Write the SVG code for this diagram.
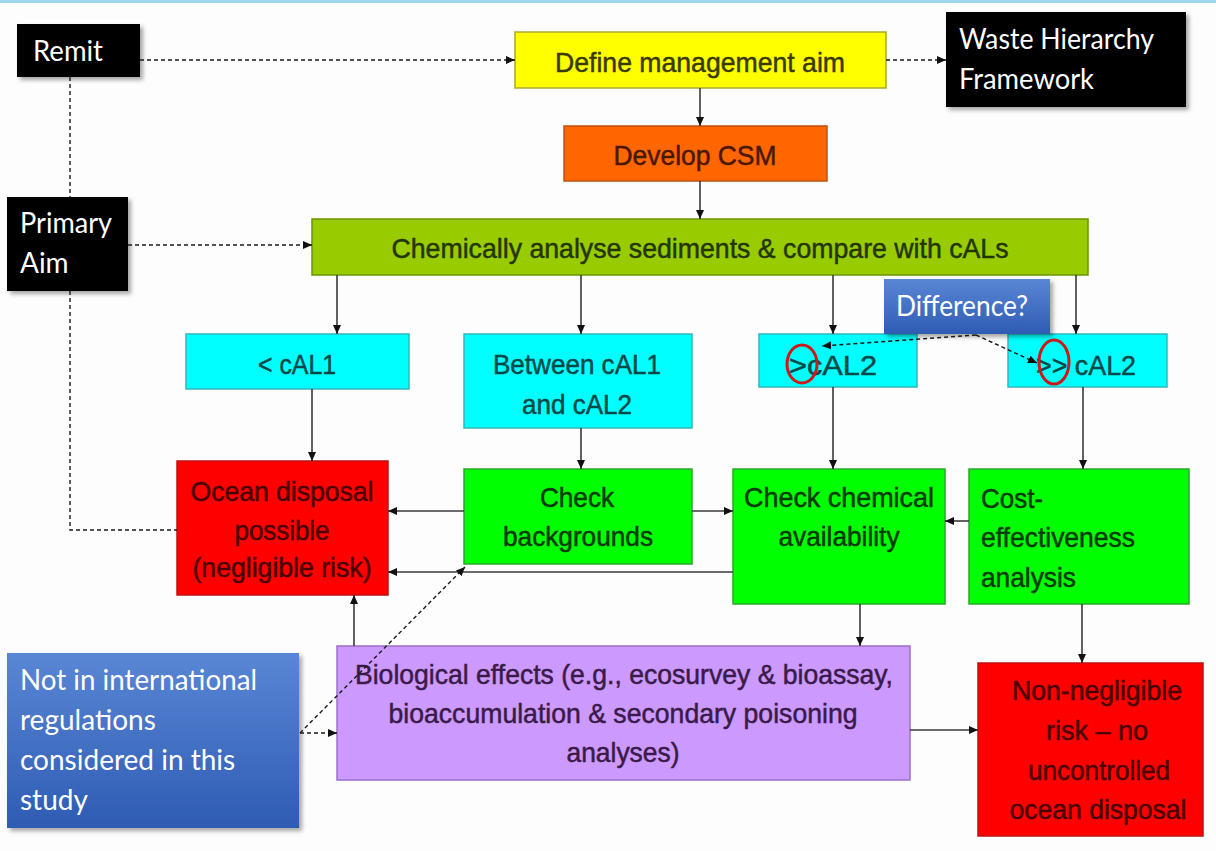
<svg xmlns="http://www.w3.org/2000/svg" width="1216" height="851" viewBox="0 0 1216 851">
<defs>
<marker id="ah" markerWidth="9" markerHeight="8" refX="9" refY="4" orient="auto" markerUnits="userSpaceOnUse"><path d="M0,0 L9,4 L0,8 Z" fill="#111"/></marker>
<filter id="sh" x="-10%" y="-10%" width="130%" height="130%"><feDropShadow dx="3" dy="3" stdDeviation="2" flood-color="#000" flood-opacity="0.35"/></filter>
<linearGradient id="bl" x1="0" y1="0" x2="0" y2="1"><stop offset="0" stop-color="#5a86d5"/><stop offset="1" stop-color="#2e5cb3"/></linearGradient>
<style>
.c{fill:none;stroke:#3a3a3a;stroke-width:1.6}
.d{fill:none;stroke:#1a1a1a;stroke-width:1.4;stroke-dasharray:4 3}
.t{font-family:"Liberation Sans",Arial,sans-serif;font-size:28px;text-anchor:middle;stroke-width:0.5px}
.tl{font-family:"Liberation Sans",Arial,sans-serif;font-size:28px;stroke-width:0.5px}
.w{font-family:Lato,"Open Sans",sans-serif;font-size:28px;fill:#fff}
</style>
</defs>
<rect width="1216" height="851" fill="#fdfdfd"/>
<rect x="0" y="0" width="1216" height="3" fill="#9ed4ee"/>

<g id="remit"><rect x="17" y="24" width="123" height="53" fill="#000" filter="url(#sh)"/><text class="w" x="33" y="61" textLength="70" lengthAdjust="spacingAndGlyphs">Remit</text></g>
<g id="primary-aim"><rect x="7" y="197" width="121" height="94" fill="#000" filter="url(#sh)"/><text class="w" x="20" y="233" textLength="92" lengthAdjust="spacingAndGlyphs">Primary</text><text class="w" x="20" y="273">Aim</text></g>
<g id="waste-hierarchy"><rect x="946" y="12" width="240" height="95" fill="#000" filter="url(#sh)"/><text class="w" x="959" y="49" textLength="195" lengthAdjust="spacingAndGlyphs">Waste Hierarchy</text><text class="w" x="959" y="89" textLength="135" lengthAdjust="spacingAndGlyphs">Framework</text></g>

<g id="define"><rect x="515" y="32" width="371" height="56" fill="#ffff00" stroke="#a8a830" stroke-width="1.5"/><text class="t" x="700" y="72" fill="#3a3a00" stroke="#3a3a00" font-size="30" textLength="290" lengthAdjust="spacingAndGlyphs">Define management aim</text></g>
<g id="develop"><rect x="564" y="126" width="263" height="55" fill="#ff6600" stroke="#c05010" stroke-width="1.5"/><text class="t" x="695" y="165" fill="#4a1800" stroke="#4a1800" font-size="30" textLength="163" lengthAdjust="spacingAndGlyphs">Develop CSM</text></g>
<g id="chem-analyse"><rect x="312" y="219" width="776" height="56" fill="#99cc00" stroke="#6b9400" stroke-width="1.5"/><text class="t" x="700" y="258" fill="#243600" stroke="#243600" font-size="30" textLength="617" lengthAdjust="spacingAndGlyphs">Chemically analyse sediments &amp; compare with cALs</text></g>

<g id="lt-cal1"><rect x="186" y="334" width="223" height="55" fill="#00ffff" stroke="#30b8b8" stroke-width="1.5"/><text class="t" x="297" y="374" fill="#044848" stroke="#044848" textLength="78" lengthAdjust="spacingAndGlyphs">&lt; cAL1</text></g>
<g id="between"><rect x="464" y="334" width="228" height="94" fill="#00ffff" stroke="#30b8b8" stroke-width="1.5"/><text class="t" x="577" y="374" fill="#044848" stroke="#044848" textLength="168" lengthAdjust="spacingAndGlyphs">Between cAL1</text><text class="t" x="577" y="414" fill="#044848" stroke="#044848" textLength="110" lengthAdjust="spacingAndGlyphs">and cAL2</text></g>
<g id="gt-cal2"><rect x="759" y="334" width="158" height="53" fill="#00ffff" stroke="#30b8b8" stroke-width="1.5"/><text class="t" x="833" y="375" fill="#044848" stroke="#044848" textLength="88" lengthAdjust="spacingAndGlyphs">&gt;cAL2</text><ellipse cx="802" cy="364" rx="15" ry="19" fill="none" stroke="#cc1a1a" stroke-width="3"/></g>
<g id="gtgt-cal2"><rect x="1008" y="334" width="159" height="53" fill="#00ffff" stroke="#30b8b8" stroke-width="1.5"/><text class="t" x="1086" y="375" fill="#044848" stroke="#044848" textLength="100" lengthAdjust="spacingAndGlyphs">&gt;&gt; cAL2</text><ellipse cx="1054" cy="362" rx="15" ry="22" fill="none" stroke="#cc1a1a" stroke-width="3"/></g>
<g id="difference"><rect x="884" y="279" width="166" height="55" fill="url(#bl)" filter="url(#sh)"/><text class="w" x="896" y="316" font-size="25" textLength="132" lengthAdjust="spacingAndGlyphs">Difference?</text></g>

<g id="ocean"><rect x="177" y="461" width="211" height="134" fill="#ff0000" stroke="#c01010" stroke-width="1.5"/><text class="t" x="282" y="501" fill="#4a0000" stroke="#4a0000" textLength="183" lengthAdjust="spacingAndGlyphs">Ocean disposal</text><text class="t" x="282" y="540" fill="#4a0000" stroke="#4a0000" textLength="95" lengthAdjust="spacingAndGlyphs">possible</text><text class="t" x="282" y="577" fill="#4a0000" stroke="#4a0000" textLength="179" lengthAdjust="spacingAndGlyphs">(negligible risk)</text></g>
<g id="check-bg"><rect x="464" y="469" width="228" height="95" fill="#00ff00" stroke="#28a828" stroke-width="1.5"/><text class="t" x="577" y="507" fill="#053a05" stroke="#053a05" textLength="74" lengthAdjust="spacingAndGlyphs">Check</text><text class="t" x="578" y="546" fill="#053a05" stroke="#053a05" textLength="150" lengthAdjust="spacingAndGlyphs">backgrounds</text></g>
<g id="check-chem"><rect x="733" y="469" width="212" height="135" fill="#00ff00" stroke="#28a828" stroke-width="1.5"/><text class="t" x="839" y="507" fill="#053a05" stroke="#053a05" textLength="190" lengthAdjust="spacingAndGlyphs">Check chemical</text><text class="t" x="839" y="546" fill="#053a05" stroke="#053a05" textLength="121" lengthAdjust="spacingAndGlyphs">availability</text></g>
<g id="cost"><rect x="969" y="469" width="220" height="135" fill="#00ff00" stroke="#28a828" stroke-width="1.5"/><text class="tl" x="981" y="508" fill="#053a05" stroke="#053a05" textLength="62" lengthAdjust="spacingAndGlyphs">Cost-</text><text class="tl" x="981" y="547" fill="#053a05" stroke="#053a05" textLength="154" lengthAdjust="spacingAndGlyphs">effectiveness</text><text class="tl" x="981" y="587" fill="#053a05" stroke="#053a05" textLength="95" lengthAdjust="spacingAndGlyphs">analysis</text></g>

<g id="biological"><rect x="337" y="646" width="573" height="134" fill="#cc99ff" stroke="#9a70c8" stroke-width="1.5"/><text class="t" x="624" y="684" fill="#3a1a48" stroke="#3a1a48" textLength="538" lengthAdjust="spacingAndGlyphs">Biological effects (e.g., ecosurvey &amp; bioassay,</text><text class="t" x="623" y="723" fill="#3a1a48" stroke="#3a1a48" textLength="469" lengthAdjust="spacingAndGlyphs">bioaccumulation &amp; secondary poisoning</text><text class="t" x="623" y="762" fill="#3a1a48" stroke="#3a1a48" textLength="113" lengthAdjust="spacingAndGlyphs">analyses)</text></g>
<g id="non-negligible"><rect x="978" y="663" width="225" height="173" fill="#ff0000" stroke="#c01010" stroke-width="1.5"/><text class="t" x="1097" y="700" fill="#4a0000" stroke="#4a0000" textLength="170" lengthAdjust="spacingAndGlyphs">Non-negligible</text><text class="t" x="1097" y="740" fill="#4a0000" stroke="#4a0000" textLength="102" lengthAdjust="spacingAndGlyphs">risk – no</text><text class="t" x="1099" y="780" fill="#4a0000" stroke="#4a0000" textLength="142" lengthAdjust="spacingAndGlyphs">uncontrolled</text><text class="t" x="1098" y="819" fill="#4a0000" stroke="#4a0000" textLength="177" lengthAdjust="spacingAndGlyphs">ocean disposal</text></g>

<g id="not-international"><rect x="7" y="653" width="292" height="175" fill="url(#bl)" filter="url(#sh)"/><text class="w" x="20" y="690" textLength="237" lengthAdjust="spacingAndGlyphs">Not in international</text><text class="w" x="20" y="730">regulations</text><text class="w" x="20" y="770">considered in this</text><text class="w" x="20" y="810">study</text></g>

<g id="connectors">
<line class="c" x1="700" y1="88" x2="700" y2="126" marker-end="url(#ah)"/>
<line class="c" x1="700" y1="181" x2="700" y2="219" marker-end="url(#ah)"/>
<line class="c" x1="337" y1="275" x2="337" y2="334" marker-end="url(#ah)"/>
<line class="c" x1="581" y1="275" x2="581" y2="334" marker-end="url(#ah)"/>
<line class="c" x1="833" y1="275" x2="833" y2="334" marker-end="url(#ah)"/>
<line class="c" x1="1076" y1="275" x2="1076" y2="334" marker-end="url(#ah)"/>
<line class="c" x1="312" y1="389" x2="312" y2="461" marker-end="url(#ah)"/>
<line class="c" x1="581" y1="428" x2="581" y2="469" marker-end="url(#ah)"/>
<line class="c" x1="833" y1="387" x2="833" y2="469" marker-end="url(#ah)"/>
<line class="c" x1="1083" y1="387" x2="1083" y2="469" marker-end="url(#ah)"/>
<line class="c" x1="464" y1="511" x2="388" y2="511" marker-end="url(#ah)"/>
<line class="c" x1="692" y1="511" x2="733" y2="511" marker-end="url(#ah)"/>
<line class="c" x1="733" y1="572" x2="388" y2="572" marker-end="url(#ah)"/>
<line class="c" x1="969" y1="521" x2="945" y2="521" marker-end="url(#ah)"/>
<line class="c" x1="860" y1="604" x2="860" y2="646" marker-end="url(#ah)"/>
<line class="c" x1="354" y1="646" x2="354" y2="595" marker-end="url(#ah)"/>
<line class="c" x1="1082" y1="604" x2="1082" y2="663" marker-end="url(#ah)"/>
<line class="c" x1="910" y1="730" x2="978" y2="730" marker-end="url(#ah)"/>
<line class="d" x1="140" y1="60" x2="515" y2="60" marker-end="url(#ah)"/>
<line class="d" x1="886" y1="60" x2="946" y2="60" marker-end="url(#ah)"/>
<line class="d" x1="128" y1="245" x2="312" y2="245" marker-end="url(#ah)"/>
<path class="d" d="M70,77 V197 M70,291 V530 H177"/>
<line class="d" x1="300" y1="733" x2="337" y2="733" marker-end="url(#ah)"/>
<line class="d" x1="300" y1="733" x2="465" y2="567" marker-end="url(#ah)"/>
<line class="d" x1="976" y1="335" x2="822" y2="346" marker-end="url(#ah)"/>
<line class="d" x1="976" y1="335" x2="1037" y2="363" marker-end="url(#ah)"/>
</g>
</svg>
